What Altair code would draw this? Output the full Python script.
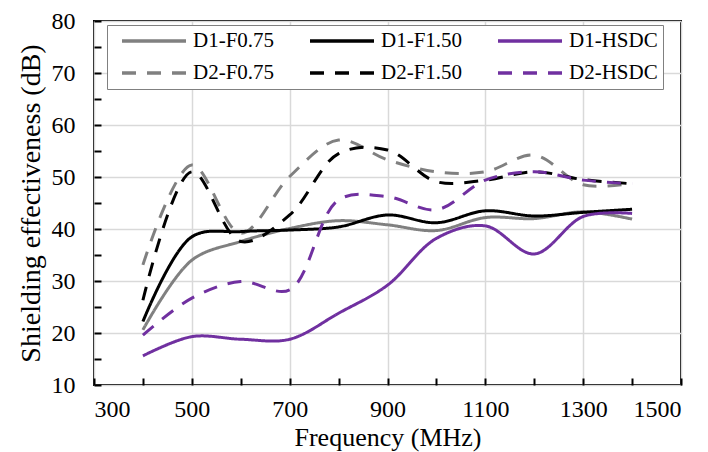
import altair as alt
import pandas as pd

freq = [400, 500, 600, 700, 800, 900, 1000, 1100, 1200, 1300, 1400]
# legend lays out column by column: pairs in this order fill the 2-row grid
names = ["D1-F0.75", "D2-F0.75", "D1-F1.50", "D2-F1.50", "D1-HSDC", "D2-HSDC"]
d1_f075 = [20.6, 34.0, 37.6, 40.1, 41.6, 40.8, 39.7, 42.2, 42.0, 43.3, 41.9]
d1_f150 = [22.2, 38.5, 39.5, 39.8, 40.4, 42.7, 41.2, 43.5, 42.5, 43.2, 43.8]
d1_hsdc = [15.6, 19.3, 18.8, 18.8, 23.8, 29.2, 38.2, 40.6, 35.2, 42.4, 43.0]
d2_f075 = [33.1, 52.3, 39.2, 50.1, 57.1, 53.3, 51.0, 51.0, 54.2, 48.5, 48.8]
d2_f150 = [26.3, 51.0, 37.6, 42.7, 54.5, 55.2, 49.1, 49.4, 51.0, 49.5, 48.7]
d2_hsdc = [19.6, 26.7, 29.9, 28.3, 45.6, 46.2, 43.7, 49.4, 51.0, 49.4, 48.7]

x_labels = [300, 500, 700, 900, 1100, 1300, 1500]
x_minor = list(range(300, 1501, 100))
y_labels = list(range(10, 81, 10))
y_minor = list(range(10, 81, 5))

colors = ["#808080", "#808080", "#000000", "#000000", "#7030A0", "#7030A0"]
dashes = [[1, 0], [14, 11], [1, 0], [14, 11], [1, 0], [14, 11]]

series = [d1_f075, d2_f075, d1_f150, d2_f150, d1_hsdc, d2_hsdc]
rows = []
for n, vals in zip(names, series):
    for f, v in zip(freq, vals):
        rows.append({"series": n, "freq": f, "se": v})
df = pd.DataFrame(rows)

W, H = 587, 364
FONT = "Liberation Serif, Times New Roman, serif"

legend = alt.Legend(
    title=None, orient="none", legendX=13, legendY=4, columns=3,
    symbolType="stroke", symbolSize=4096, symbolStrokeWidth=3.5, symbolOffset=8,
    clipHeight=22,
    labelFont=FONT, labelFontSize=21, labelColor="black", labelOffset=5,
    strokeColor="#808080", fillColor="white", padding=5,
    rowPadding=10, columnPadding=18, gridAlign="all", labelLimit=200,
)

lines = alt.Chart(df).mark_line(interpolate="catmull-rom", strokeWidth=3).encode(
    x=alt.X("freq:Q", scale=alt.Scale(domain=[300, 1500], nice=False, zero=False),
            axis=alt.Axis(values=x_labels, format="d", title="Frequency (MHz)", grid=True,
                          ticks=False, domain=False, labelPadding=12,
                          titleFontSize=26, titleBaseline="alphabetic", titleY=60)),
    y=alt.Y("se:Q", scale=alt.Scale(domain=[10, 80], nice=False, zero=False),
            axis=alt.Axis(values=y_labels, format="d", title="Shielding effectiveness (dB)", grid=True,
                          ticks=False, domain=False, labelPadding=19,
                          titleFontSize=28, titleBaseline="middle", titleX=-63)),
    color=alt.Color("series:N", scale=alt.Scale(domain=names, range=colors), legend=legend),
    strokeDash=alt.StrokeDash("series:N", scale=alt.Scale(domain=names, range=dashes), legend=legend),
)

ticks = alt.Chart(df).mark_point(opacity=0).encode(
    x=alt.X("freq:Q", scale=alt.Scale(domain=[300, 1500], nice=False, zero=False),
            axis=alt.Axis(orient="top", offset=-H, values=x_minor, labels=False, title=None,
                          grid=False, domain=False, ticks=True, tickSize=7, tickWidth=2,
                          tickColor="black")),
    y=alt.Y("se:Q", scale=alt.Scale(domain=[10, 80], nice=False, zero=False),
            axis=alt.Axis(orient="right", offset=-W, values=y_minor, labels=False, title=None,
                          grid=False, domain=False, ticks=True, tickSize=7, tickWidth=2,
                          tickColor="black")),
)

chart = alt.layer(lines, ticks).resolve_axis(x="independent", y="independent").properties(
    width=W, height=H,
    autosize=alt.AutoSizeParams(type="none"),
    padding={"left": 86, "top": 13, "right": 15, "bottom": 67},
).configure(font=FONT).configure_view(stroke="black", strokeWidth=2).configure_axis(
    labelFont=FONT, labelFontSize=24, labelColor="black",
    titleFont=FONT, titleFontWeight="normal", titleColor="black",
    gridColor="#d9d9d9", gridWidth=1.5,
).configure_legend(labelFont=FONT)

chart.save("out.html", embed_options={"renderer": "svg", "actions": False})
